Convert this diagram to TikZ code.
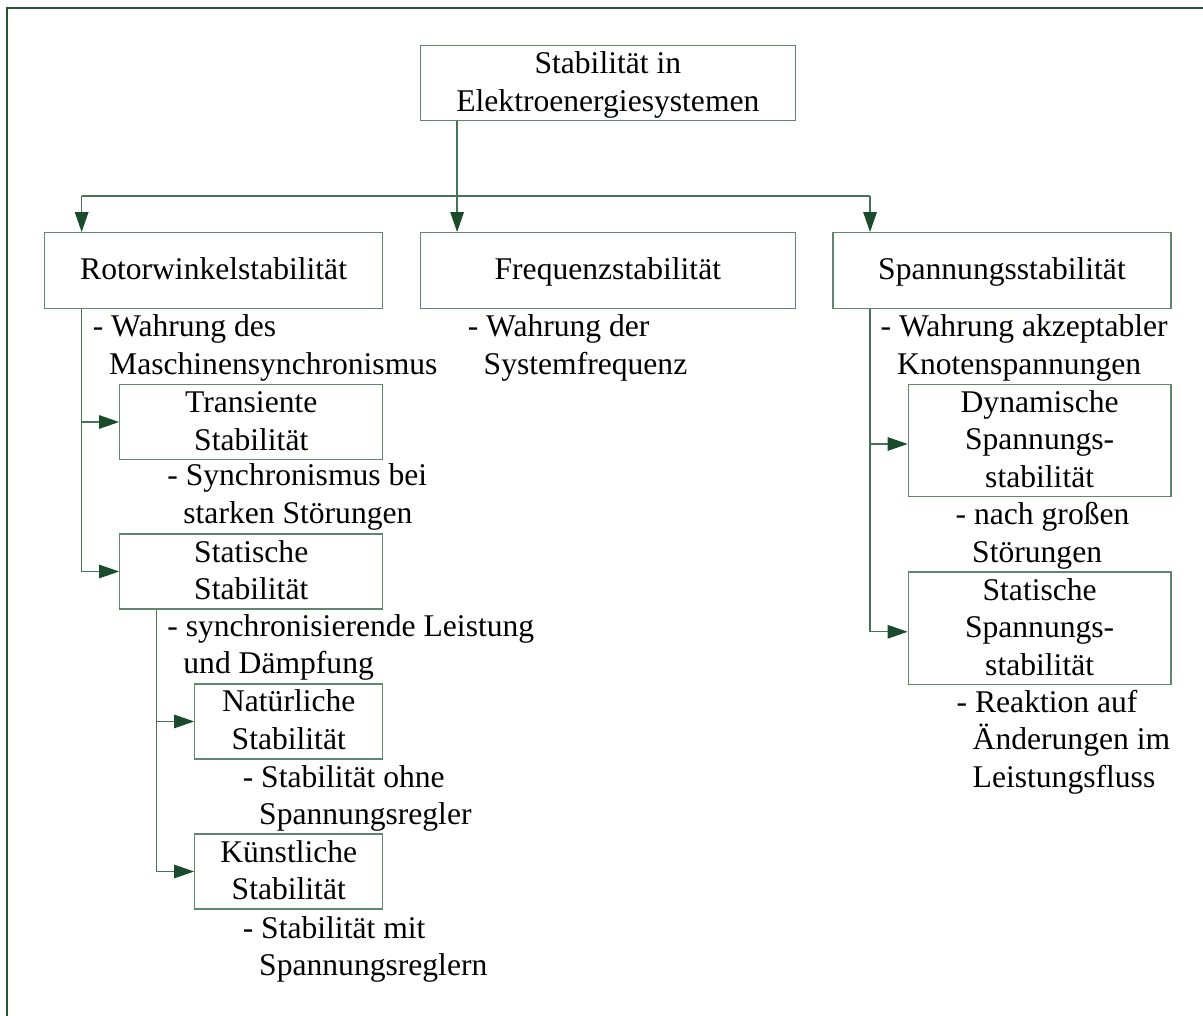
\documentclass[tikz,border=0pt]{standalone}
\usepackage{fontspec}
\setmainfont{Liberation Serif}
\usetikzlibrary{arrows.meta,calc}
\definecolor{boxcol}{RGB}{95,135,110}
\definecolor{linecol}{RGB}{70,115,85}
\definecolor{arrowcol}{RGB}{27,75,45}
\definecolor{framecol}{RGB}{35,85,50}
\newcommand{\sr}{\rule[-9.5pt]{0pt}{37.5pt}}
\tikzset{
  x=1pt, y=-1pt,
  txt/.style={font=\fontsize{31.6pt}{37.5pt}\selectfont, text=black},
  boxnode/.style={txt, draw=boxcol, line width=1.3pt, inner sep=0pt, align=center},
  plain/.style={txt, inner sep=0pt, anchor=base west},
  conn/.style={draw=linecol, line width=1.3pt},
  arr/.style={conn, -{Triangle[length=20pt,width=13.5pt,color=arrowcol,fill=arrowcol]}}
}
\begin{document}
\begin{tikzpicture}
\fill[white] (0,0) rectangle (1203,1016);
\useasboundingbox (0,0) rectangle (1203,1016);
\draw[framecol, line width=1.6pt] (6.7,1020) -- (6.7,8.3) -- (1210,8.3);

% boxes
\node[boxnode, minimum width=375pt, minimum height=75pt] (top) at (607.85,83.2) {\sr Stabilität in\\\sr Elektroenergiesystemen};
\node[boxnode, minimum width=338.2pt, minimum height=75.8pt] (rotor) at (213.6,270.6) {\sr Rotorwinkelstabilität};
\node[boxnode, minimum width=375pt, minimum height=75.8pt] (freq) at (607.85,270.6) {\sr Frequenzstabilität};
\node[boxnode, minimum width=338pt, minimum height=75.8pt] (spann) at (1002,270.6) {\sr Spannungsstabilität};
\node[boxnode, minimum width=263pt, minimum height=74pt] (trans) at (251.25,422) {\sr Transiente\\\sr Stabilität};
\node[boxnode, minimum width=263pt, minimum height=74pt] (statR) at (251.25,571.5) {\sr Statische\\\sr Stabilität};
\node[boxnode, minimum width=188pt, minimum height=74.5pt] (nat) at (288.75,721.45) {\sr Natürliche\\\sr Stabilität};
\node[boxnode, minimum width=188pt, minimum height=75pt] (kuen) at (288.75,871.5) {\sr Künstliche\\\sr Stabilität};
\node[boxnode, minimum width=262.7pt, minimum height=112.4pt] (dyn) at (1039.65,440.5) {\sr Dynamische\\\sr Spannungs-\\\sr stabilität};
\node[boxnode, minimum width=262.7pt, minimum height=112pt] (statS) at (1039.65,628.3) {\sr Statische\\\sr Spannungs-\\\sr stabilität};

% free texts
\node[plain] (t1a) at (92.6,336.8) {- Wahrung des};
\node[plain] (t1b) at (109.0,374.3) {Maschinensynchronismus};
\node[plain] (t2a) at (167.2,485.8) {- Synchronismus bei};
\node[plain] (t2b) at (183.2,523.3) {starken Störungen};
\node[plain] (t3a) at (167.2,636) {- synchronisierende Leistung};
\node[plain] (t3b) at (183.2,673.5) {und Dämpfung};
\node[plain] (t4a) at (242.6,787) {- Stabilität ohne};
\node[plain] (t4b) at (259,824.5) {Spannungsregler};
\node[plain] (t5a) at (242.6,938) {- Stabilität mit};
\node[plain] (t5b) at (259,975.5) {Spannungsreglern};
\node[plain] (m1a) at (467.6,336.8) {- Wahrung der};
\node[plain] (m1b) at (483.5,374.3) {Systemfrequenz};
\node[plain] (r1a) at (880.5,336.8) {- Wahrung akzeptabler};
\node[plain] (r1b) at (897,374.3) {Knotenspannungen};
\node[plain] (r2a) at (955.5,524.7) {- nach großen};
\node[plain] (r2b) at (972,562.2) {Störungen};
\node[plain] (r3a) at (956.5,712.3) {- Reaktion auf};
\node[plain] (r3b) at (972.5,749.8) {Änderungen im};
\node[plain] (r3c) at (972.5,787.3) {Leistungsfluss};

% connectors
\coordinate (jt) at ([xshift=37.4pt]top.south west);
\coordinate (rx) at ([xshift=37.8pt]rotor.north west);
\coordinate (sx) at ([xshift=37.7pt]spann.north west);
\coordinate (bus) at (0,196);
\draw[arr] (jt) -- (jt |- freq.north);
\draw[conn] (rx |- bus) -- (sx |- bus);
\draw[arr] (rx |- bus) -- (rx);
\draw[arr] (sx |- bus) -- (sx);

\coordinate (rb) at ([xshift=37.8pt]rotor.south west);
\draw[conn] (rb) -- (rb |- statR.west);
\draw[arr] (rb |- trans.west) -- (trans.west);
\draw[arr] (rb |- statR.west) -- (statR.west);

\coordinate (sb) at ([xshift=37.5pt]statR.south west);
\draw[conn] (sb) -- (sb |- kuen.west);
\draw[arr] (sb |- nat.west) -- (nat.west);
\draw[arr] (sb |- kuen.west) -- (kuen.west);

\coordinate (pb) at ([xshift=37.7pt]spann.south west);
\coordinate (dw) at ([yshift=-3.5pt]dyn.west);
\coordinate (sw) at ([yshift=-3.5pt]statS.west);
\draw[conn] (pb) -- (pb |- sw);
\draw[arr] (pb |- dw) -- (dw);
\draw[arr] (pb |- sw) -- (sw);
\end{tikzpicture}
\end{document}
